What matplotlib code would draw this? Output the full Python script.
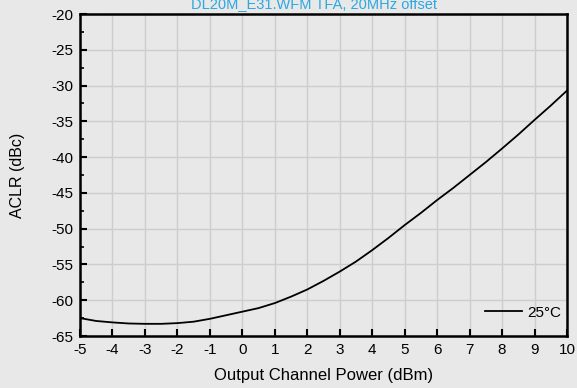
import matplotlib
matplotlib.use("Agg")
import matplotlib.pyplot as plt
from matplotlib.ticker import MultipleLocator

# Output channel power (dBm) and ACLR (dBc)
power_dbm = [-5, -4.5, -4, -3.5, -3, -2.5, -2, -1.5, -1, -0.5, 0, 0.5,
             1, 1.5, 2, 2.5, 3, 3.5, 4, 4.5, 5, 5.5, 6, 6.5,
             7, 7.5, 8, 8.5, 9, 9.5, 10]
aclr_dbc = [-62.5, -62.9, -63.1, -63.25, -63.3, -63.3, -63.2, -63.0,
            -62.6, -62.1, -61.6, -61.1, -60.4, -59.5, -58.5, -57.3,
            -56.0, -54.6, -53.0, -51.3, -49.5, -47.8, -46.0, -44.3,
            -42.5, -40.7, -38.8, -36.85, -34.8, -32.8, -30.7]

TITLE = "DL20M_E31.WFM TFA, 20MHz offset"
SERIES_LABEL = "25°C"
BG = "#e8e8e8"

plt.rcParams["font.family"] = ["Liberation Sans", "DejaVu Sans"]
plt.rcParams["font.size"] = 11
plt.rcParams["axes.unicode_minus"] = False

fig = plt.figure(figsize=(5.77, 3.88), dpi=100, facecolor=BG)
ax = fig.add_axes([80 / 577, 1 - 336 / 388, 487 / 577, 322 / 388])
ax.set_facecolor(BG)

ax.plot(power_dbm, aclr_dbc, color="black", linewidth=1.3, label=SERIES_LABEL)

ax.set_xlim(-5, 10)
ax.set_ylim(-65, -20)
ax.xaxis.set_major_locator(MultipleLocator(1))
ax.yaxis.set_major_locator(MultipleLocator(5))
ax.yaxis.set_minor_locator(MultipleLocator(2.5))
ax.grid(True, which="major", color="#cdcdcd", linewidth=1.0)
ax.set_axisbelow(True)

ax.tick_params(which="major", direction="in", length=5, width=1.5, pad=5,
               colors="black", labelsize=11)
ax.tick_params(which="minor", direction="in", length=3, width=1.2)
for s in ax.spines.values():
    s.set_linewidth(1.8)
    s.set_color("black")

ax.set_xlabel("Output Channel Power (dBm)", fontsize=12, labelpad=8)
ax.set_ylabel("ACLR (dBc)", fontsize=11.5, labelpad=19)

# the reference title sits partly above the top edge of the image
fig.text(0.545, 1 - 8 / 388, TITLE, ha="center", va="baseline",
         color="#2aa8e2", fontsize=10.5)

ax.legend(loc="lower right", bbox_to_anchor=(1.0, 0.032), frameon=False,
          handlelength=2.4, handletextpad=0.35, borderpad=0.3,
          borderaxespad=0.1, fontsize=11)

fig.savefig("out.png", dpi=100, facecolor=BG)
